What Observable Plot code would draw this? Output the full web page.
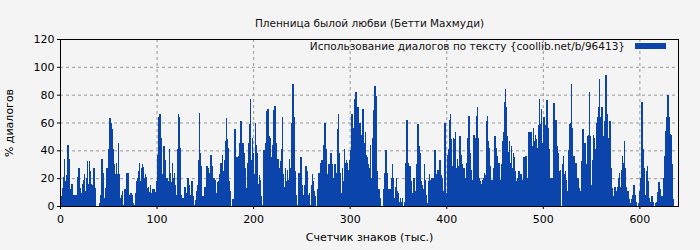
<!DOCTYPE html>
<html><head><meta charset="utf-8">
<script src="https://cdn.jsdelivr.net/npm/d3@7"></script>
<script src="https://cdn.jsdelivr.net/npm/@observablehq/plot@0.6"></script>
<style>
body{margin:0;background:#f4f4f4;font-family:"DejaVu Sans",sans-serif;}
#wrap{position:relative;width:700px;height:250px;}
#legend{position:absolute;top:39px;right:34px;display:flex;align-items:center;font-size:10.5px;color:#111;line-height:14px;}
#legend .sw{display:inline-block;width:31px;height:6px;margin-left:10px;}
</style></head><body><div id="wrap"><div id="legend"><span id="legtext"></span><span class="sw" id="legsw"></span></div></div>
<script>
const title = "Пленница былой любви (Бетти Махмуди)";
const xLabel = "Счетчик знаков (тыс.)";
const yLabel = "% диалогов";
const seriesName = "Использование диалогов по тексту {coollib.net/b/96413}";
const xTicks = [0,100,200,300,400,500,600];
const yTicks = [0,20,40,60,80,100,120];
const barColor = "#0b45ab";

const seg1 = [6,7,13,21,34,18,2,22,44,34,12,8,16,8,8,8,1,8,21,27,13,3,9,16,19,23,11,20,32,16,32,25,16,15,13,27,13,0,0,0,0,2,8,34,24,6,1,13,27,17,41,63,62,60,55,41,30,23,31,23];
const seg2 = [45,23,6,8,11,1,1,12,12,24,24,8,2,9,8,2,1,0,9,18,20,25,31,18,27,30,28,20,23,21,13,14,10,15,9,8,12,12,9,10,18,37,64,66,49,20,23,43,33,20,8,20,18,41,24,17,31,20];
const seg3 = [24,15,8,41,66,64,42,8,6,3,6,14,6,9,20,15,8,6,18,7,1,0,4,11,15,33,67,38,29,7,7,14,14,23,29,27,18,24,37,29,12,20,19,9,3,17,18,23,31,29,37,25,33,47,63,48,42,18,11,0,5,5];
const seg4 = [33,55,27,35,30,36,45,61,27,45,38,27,13,9,31,45,59,77,33,49,38,23,60,44,38,16,22,19,7,0,1,40,27,45,68,70,50,49,29,35,44,69,72,45,29,34,16,27,32,41,64,23,14,27,18,26,19,34,27,11];
const seg5 = [60,88,64,25,8,1,1,24,17,35,15,8,7,15,29,25,19,8,9,1,15,23,18,11,7,0,12,8,24,23,31,33,25,44,60,41,23,20,30,27,38,30,20,15,30,12,24,55,66,38,24,9,27,18,41,31,33,31,26,26];
const seg6 = [33,40,66,42,56,77,82,64,71,53,60,51,44,70,50,45,53,37,35,30,27,44,20,49,69,44,86,79,25,12,12,6,0,0,0,12,24,40,24,12,3,12,10,20,30,20,6,14,20,11,9,3,6,3,6,0,0,3,31,62];
const seg7 = [31,20,29,18,9,8,20,11,3,30,59,21,43,38,18,15,12,30,19,8,2,18,23,19,15,20,20,20,40,17,23,26,20,33,22,20,11,2,60,9,3,37,41,62,66,48,29,49,48,53,27,34,29,24,50,37,30,20,27,20];
const seg8 = [11,31,49,65,38,26,19,18,51,49,31,65,71,49,20,18,16,19,20,24,22,61,65,47,42,29,17,19,17,27,50,42,36,18,31,14,19,30,47,53,75,84,71,50,39,47,31,43,27,38,35,25,9,18,20,25,18,23,18,19];
const seg9 = [35,29,36,20,15,53,41,53,49,43,56,47,51,48,42,58,77,59,70,45,39,64,58,49,76,56,41,20,10,20,18,74,37,62,43,38,25,20,26,0,30,36,23,25,19,11,40,59,60,88,56,21,36,15,31,19,20,13,6,11];
const seg10 = [32,55,44,45,30,8,50,51,82,50,15,33,51,49,41,60,64,71,91,64,37,71,36,50,61,94,66,49,37,61,27,13,0,7,14,11,7,14,20,24,14,26,36,31,47,27,14,7,11,5,0,2,5,8,15,8,3,0,0,2];
const seg11 = [11,20,75,41,27,20,8,25,29,18,6,3,7,7,3,0,0,2,3,10,17,12,6,7,3,20,36,54,64,80,64,52,51,30,12,5];

const values = [].concat(seg1,seg2,seg3,seg4,seg5,seg6,seg7,seg8,seg9,seg10,seg11);
const data = values.map((v,i)=>({x:i, v}));

const chart = Plot.plot({
  width:700, height:250,
  marginLeft:60, marginRight:22, marginTop:39, marginBottom:44,
  style:{background:"#f4f4f4", fontFamily:"DejaVu Sans", fontSize:"11px", color:"#000", overflow:"visible"},
  x:{domain:[0,640]},
  y:{domain:[0,120]},
  marks:[
    Plot.gridX(xTicks, {stroke:"#999", strokeOpacity:1, strokeDasharray:"3,3"}),
    Plot.gridY(yTicks, {stroke:"#999", strokeOpacity:1, strokeDasharray:"3,3"}),
    Plot.rectY(data, {x1:"x", x2:d=>d.x+1, y:"v", fill:barColor, insetLeft:-0.3, insetRight:-0.3, shapeRendering:"crispEdges"}),
    Plot.frame({stroke:"#000"}),
    Plot.axisX({ticks:xTicks, tickFormat:"d", tickSize:3, tickPadding:6, label:xLabel, labelAnchor:"center", labelOffset:34, labelArrow:"none"}),
    Plot.axisY({ticks:yTicks, tickSize:3, tickPadding:3, label:yLabel, labelAnchor:"center", labelOffset:55, labelArrow:"none"}),
    Plot.text([title], {frameAnchor:"top", dy:-20, fontSize:10.5, fill:"#111"})
  ]
});
document.getElementById("wrap").prepend(chart);
document.getElementById("legtext").textContent = seriesName;
document.getElementById("legsw").style.background = barColor;
</script></body></html>
